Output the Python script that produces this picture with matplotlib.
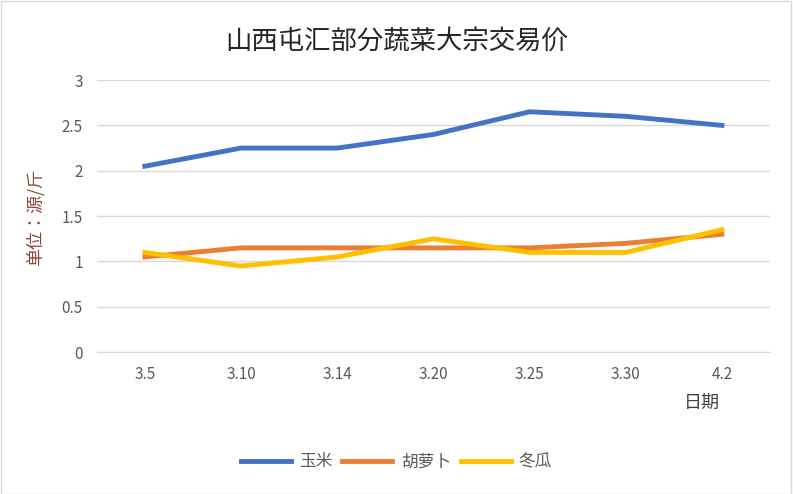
import matplotlib.pyplot as plt
from matplotlib import font_manager
from matplotlib.patches import Rectangle

# pick whatever CJK family is actually registered
names = sorted({f.name for f in font_manager.fontManager.ttflist})
cjk = [n for n in names if "CJK" in n]
pref = [n for n in cjk if n.endswith("SC")] or cjk
plt.rcParams["font.family"] = pref[:1] + ["DejaVu Sans"]

dates = ["3.5", "3.10", "3.14", "3.20", "3.25", "3.30", "4.2"]
corn = [2.05, 2.25, 2.25, 2.4, 2.65, 2.6, 2.5]
carrot = [1.05, 1.15, 1.15, 1.15, 1.15, 1.2, 1.3]
melon = [1.1, 0.95, 1.05, 1.25, 1.1, 1.1, 1.35]

fig = plt.figure(figsize=(7.93, 4.94), dpi=100)
ax = fig.add_axes([0.122, 0.287, 0.849, 0.551])

x = range(len(dates))
ax.plot(x, corn, color="#4472C4", lw=3.5, label="玉米")
ax.plot(x, carrot, color="#ED7D31", lw=3.5, label="胡萝卜")
ax.plot(x, melon, color="#FFC000", lw=3.5, label="冬瓜")

ax.set_xlim(-0.5, len(dates) - 0.5)
ax.set_ylim(0, 3)
ax.set_yticks([0, 0.5, 1, 1.5, 2, 2.5, 3])
ax.set_yticklabels(["0", "0.5", "1", "1.5", "2", "2.5", "3"])
ax.set_xticks(list(x))
ax.set_xticklabels(dates)
ax.grid(axis="y", color="#D9D9D9", lw=1)
ax.set_axisbelow(True)
for s in ["top", "right", "left"]:
    ax.spines[s].set_visible(False)
ax.spines["bottom"].set_color("#D9D9D9")
ax.tick_params(length=0, colors="#595959", labelsize=11, pad=10)

fig.text(0.5, 0.915, "山西屯汇部分蔬菜大宗交易价", ha="center", va="center",
         fontsize=19, color="#262626")
fig.text(0.045, 0.56, "单位：源/斤", rotation=90, ha="center", va="center",
         fontsize=13, color="#8B4A3A")
fig.text(0.885, 0.185, "日期", ha="center", va="center", fontsize=13, color="#404040")

fig.legend(loc="center", bbox_to_anchor=(0.5, 0.065), ncol=3, frameon=False,
           fontsize=12, handlelength=3, columnspacing=0.6, handletextpad=0.5,
           labelcolor="#595959")

fig.patches.append(Rectangle((0.001, 0.001), 0.997, 0.997, transform=fig.transFigure,
                             fill=False, edgecolor="#D9D9D9", lw=1))
fig.savefig("out.png", dpi=100)
